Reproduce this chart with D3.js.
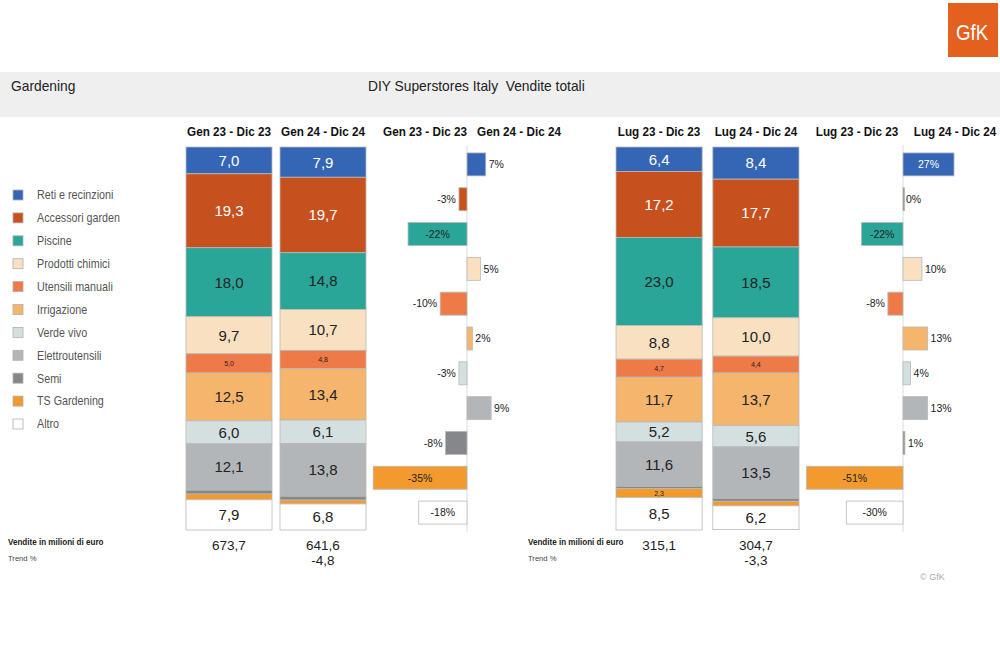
<!DOCTYPE html>
<html><head><meta charset="utf-8">
<script src="https://cdn.jsdelivr.net/npm/d3@7"></script>
<style>
html,body{margin:0;padding:0;background:#fff;}
svg{display:block;}
</style></head>
<body><svg id="c" width="1000" height="666"></svg>
<script>
// ---------- DATA ----------
const categories = ["Reti e recinzioni","Accessori garden","Piscine","Prodotti chimici","Utensili manuali","Irrigazione","Verde vivo","Elettroutensili","Semi","TS Gardening","Altro"];
const periodsA = ["Gen 23 - Dic 23","Gen 24 - Dic 24"];
const periodsB = ["Lug 23 - Dic 23","Lug 24 - Dic 24"];
const shareA1 = [7.0,19.3,18.0,9.7,5.0,12.5,6.0,12.1,1.0,1.5,7.9];
const shareA2 = [7.9,19.7,14.8,10.7,4.8,13.4,6.1,13.8,1.0,1.0,6.8];
const shareB1 = [6.4,17.2,23.0,8.8,4.7,11.7,5.2,11.6,0.6,2.3,8.5];
const shareB2 = [8.4,17.7,18.5,10.0,4.4,13.7,5.6,13.5,0.7,1.2,6.2];
const changeA = [7,-3,-22,5,-10,2,-3,9,-8,-35,-18];
const changeB = [27,0,-22,10,-8,13,4,13,1,-51,-30];
const salesA = [673.7,641.6];
const salesB = [315.1,304.7];
const trendA = -4.8;
const trendB = -3.3;

// ---------- STYLE ----------
const colors = ["#3566b6","#c6511f","#2aa699","#f8e0c0","#ee7a48","#f5b56c","#d4dfe0","#b3b6b9","#85878a","#f29a2e","#ffffff"];
const whiteText = new Set(["Reti e recinzioni","Accessori garden"]);
const smallLabel = new Set(["Utensili manuali","TS Gardening"]);
const sans = "'Liberation Sans',Arial,sans-serif";
const loc = d3.formatLocale({decimal:",",thousands:".",grouping:[3],currency:["€",""],minus:"-"});
const f1 = loc.format(".1f");
const fd = loc.format("d");

const svg = d3.select("#c");
const color = d3.scaleOrdinal().domain(categories).range(colors);

// condensed text helper
function ctext(g, x, y, sx, txt, size, opts={}){
  const t = g.append("text").attr("transform",`translate(${x},${y}) scale(${sx},1)`)
    .style("font-family",sans).style("font-size",size+"px")
    .attr("fill",opts.fill||"#222").attr("text-anchor",opts.anchor||"start")
    .attr("xml:space","preserve");
  if(opts.bold) t.style("font-weight","bold");
  if(opts.dy) t.attr("dy",opts.dy);
  t.text(txt);
  return t;
}

// logo
svg.append("rect").attr("x",948).attr("y",3).attr("width",50).attr("height",54).attr("fill","#e4601f");
ctext(svg,972,40,0.85,"GfK",22,{fill:"#fff",anchor:"middle"});

// header band
svg.append("rect").attr("x",0).attr("y",72).attr("width",1000).attr("height",45).attr("fill","#efefef");
ctext(svg,11,91,0.92,"Gardening",15,{fill:"#222"});
ctext(svg,368,91,0.92,"DIY Superstores Italy  Vendite totali",15,{fill:"#222"});

// legend
const leg = svg.append("g");
const legY = d3.scalePoint().domain(categories).range([195,424]);
categories.forEach((c)=>{
  leg.append("rect").attr("x",13).attr("y",legY(c)-5).attr("width",10).attr("height",10)
    .attr("fill",color(c)).attr("stroke","#b0b0b0").attr("stroke-width",0.8);
  ctext(leg,37,legY(c),0.86,c,12.5,{fill:"#555",dy:"0.35em"});
});

// common vertical scale
const yTop = 147, yBot = 530;
const yShare = d3.scaleLinear().domain([0,100]).range([yTop,yBot]);
const yRow = d3.scaleBand().domain(categories).range([yTop,yBot]).paddingInner(0.34).paddingOuter(0.17);

function stackedPanel(periods, shares, x0, x1, pad){
  const xb = d3.scaleBand().domain(periods).range([x0,x1]).paddingInner(pad);
  periods.forEach((p,pi)=>{
    const vals = shares[pi];
    const obj = {}; categories.forEach((c,i)=>obj[c]=vals[i]);
    const series = d3.stack().keys(categories)([obj]);
    const g = svg.append("g");
    series.forEach(s=>{
      const c = s.key, v = obj[c];
      const y0 = yShare(s[0][0]), y1 = yShare(s[0][1]);
      g.append("rect").attr("x",xb(p)).attr("y",y0).attr("width",xb.bandwidth()).attr("height",y1-y0)
        .attr("fill",color(c)).attr("stroke","#b9b9b9").attr("stroke-width",0.8);
      if (v >= 2){
        const small = smallLabel.has(c);
        g.append("text").attr("x",xb(p)+xb.bandwidth()/2).attr("y",(y0+y1)/2).attr("dy","0.36em")
          .attr("text-anchor","middle").style("font-family",sans)
          .style("font-size", small ? "7px" : "15px")
          .attr("fill", whiteText.has(c) ? "#fff" : "#222").text(f1(v));
      }
    });
    ctext(svg,xb(p)+xb.bandwidth()/2,136,0.9,p,13,{bold:true,anchor:"middle",fill:"#111"});
  });
  return xb;
}

function changePanel(changes, zeroX, pxPerPct, lo, hi, headers, hx){
  const x = d3.scaleLinear().domain([lo,hi]).range([zeroX+lo*pxPerPct, zeroX+hi*pxPerPct]);
  const g = svg.append("g");
  g.append("line").attr("x1",x(0)).attr("x2",x(0)).attr("y1",yTop-2).attr("y2",yBot+2).attr("stroke","#dcdcdc").attr("stroke-width",1);
  categories.forEach((c,i)=>{
    const v = changes[i];
    const xa = x(Math.min(0,v)), xw = Math.abs(x(v)-x(0));
    const y = yRow(c), h = yRow.bandwidth();
    g.append("rect").attr("x",xa).attr("y",y).attr("width",Math.max(xw,1.5)).attr("height",h)
      .attr("fill", v===0 ? "#888" : color(c)).attr("stroke","#b9b9b9").attr("stroke-width",0.8);
    const lab = fd(v)+"%";
    const t = g.append("text").attr("y",y+h/2).attr("dy","0.36em").style("font-family",sans).style("font-size","10.5px");
    if (xw > 40){
      t.attr("x",xa+xw/2).attr("text-anchor","middle").attr("fill", whiteText.has(c) ? "#fff" : "#222");
    } else if (v >= 0){
      t.attr("x",x(v)+3).attr("text-anchor","start").attr("fill","#222");
    } else {
      t.attr("x",x(v)-3).attr("text-anchor","end").attr("fill","#222");
    }
    t.text(lab);
  });
  headers.forEach((h,i)=>{
    ctext(svg,hx[i],136,0.9,h,13,{bold:true,anchor:"middle",fill:"#111"});
  });
}

const xbA = stackedPanel(periodsA,[shareA1,shareA2],186,366,0.085);
const xbB = stackedPanel(periodsB,[shareB1,shareB2],616,799,0.11);
changePanel(changeA,467,2.68,-40,10,periodsA,[425,519]);
changePanel(changeB,903,1.89,-55,30,periodsB,[857,955]);

// totals
function totals(xb, periods, sales, trend, labelX){
  periods.forEach((p,i)=>{
    svg.append("text").attr("x",xb(p)+xb.bandwidth()/2).attr("y",550).attr("text-anchor","middle")
      .style("font-family",sans).style("font-size","13.5px").attr("fill","#222").text(f1(sales[i]));
  });
  svg.append("text").attr("x",xb(periods[1])+xb.bandwidth()/2).attr("y",565).attr("text-anchor","middle")
    .style("font-family",sans).style("font-size","13.5px").attr("fill","#222").text(f1(trend));
  ctext(svg,labelX,545,0.95,"Vendite in milioni di euro",8.5,{bold:true,fill:"#222"});
  ctext(svg,labelX,561,0.95,"Trend %",8,{fill:"#444"});
}
totals(xbA,periodsA,salesA,trendA,8);
totals(xbB,periodsB,salesB,trendB,528);

ctext(svg,920,580,1,"© GfK",9,{fill:"#aaa"});
</script></body></html>
